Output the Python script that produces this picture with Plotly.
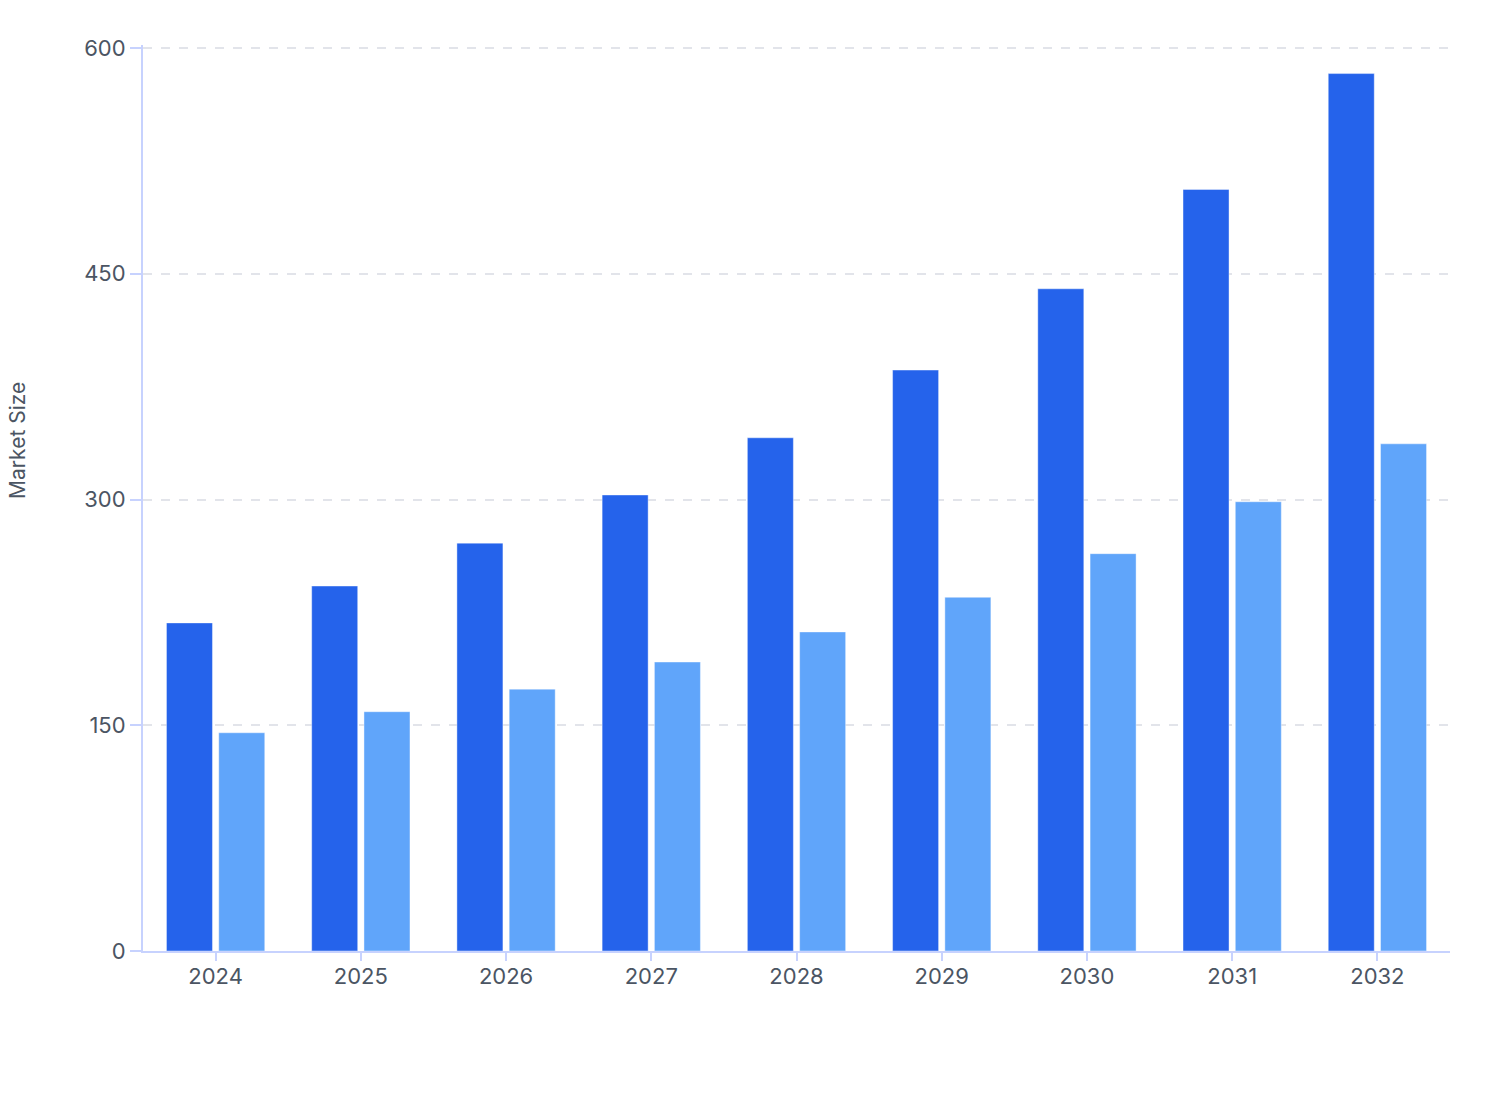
import plotly.graph_objects as go

years = ["2024", "2025", "2026", "2027", "2028", "2029", "2030", "2031", "2032"]
series_a = [218, 242.5, 271, 303, 341, 386, 440, 506, 583]
series_b = [145, 159, 174, 192, 212, 235, 264, 298.5, 337]

DARK = "#2563eb"
LIGHT = "#60a5fa"
AXIS = "#c7d2fe"
GRID = "#e2e4ea"
TEXT = "#4b5563"

fig = go.Figure()
fig.add_trace(go.Bar(x=years, y=series_a, name="A",
                     marker=dict(color=DARK, line=dict(color="rgba(255,255,255,0.4)", width=1))))
fig.add_trace(go.Bar(x=years, y=series_b, name="B",
                     marker=dict(color=LIGHT, line=dict(color="rgba(255,255,255,0.4)", width=1))))

fig.update_layout(
    width=1508, height=1120,
    margin=dict(l=143, r=58, t=45, b=169),
    paper_bgcolor="white", plot_bgcolor="white",
    font=dict(family="Inter, sans-serif", size=22, color=TEXT),
    barmode="group", bargap=0.28, bargroupgap=0.12,
    showlegend=False,
)
fig.update_xaxes(
    showline=True, linecolor=AXIS, linewidth=2,
    ticks="outside", tickcolor=AXIS, ticklen=8, tickwidth=2,
    ticklabelstandoff=-3,
    showgrid=False, tickfont=dict(size=22, color=TEXT),
)
fig.update_yaxes(
    range=[0, 602], tickvals=[0, 150, 300, 450, 600],
    showline=True, linecolor=AXIS, linewidth=2,
    ticks="outside", tickcolor=AXIS, ticklen=11, tickwidth=2,
    showgrid=True, gridcolor=GRID, griddash="dash", gridwidth=1.5,
    zeroline=False, tickfont=dict(size=22, color=TEXT),
)
fig.add_annotation(
    text="Market Size", xref="paper", yref="paper", x=-0.0965, y=0.564,
    textangle=-90, showarrow=False, xanchor="center", yanchor="middle",
    font=dict(size=21, color=TEXT),
)
# page body margin off so the figure sits at the window corner
fig.write_html("out.html", config={"displayModeBar": False},
               post_script="document.body.style.margin='0';")
